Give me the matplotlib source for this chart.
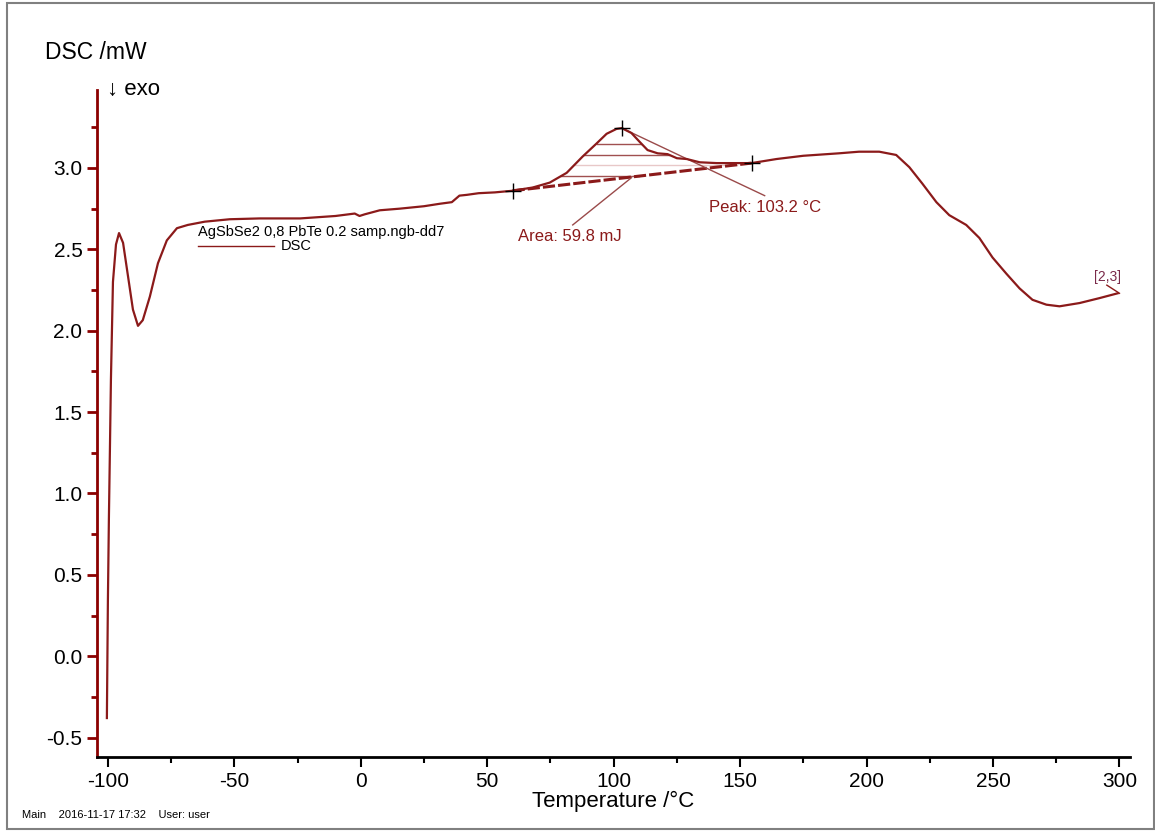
import numpy as np
import matplotlib
matplotlib.use('Agg')
import matplotlib.pyplot as plt
from matplotlib.patches import Rectangle
from matplotlib.ticker import MultipleLocator, FormatStrFormatter

plt.rcParams['font.family'] = ['Liberation Sans', 'DejaVu Sans']
plt.rcParams['axes.unicode_minus'] = False

# DSC curve
temp = [-100.4, -100.0, -99.6, -99.2, -98.8, -98.0, -96.8, -95.6, -94.0, -92.0,
        -90.1, -88.1, -86.2, -83.4, -80.2, -76.7, -72.7, -68.4, -61.7, -51.8,
        -40.0, -24.0, -10.0, -2.4, -0.5, 1.5, 7.5, 15.4, 25.0, 31.2,
        36.0, 39.0, 42.0, 46.6, 53.0, 60.0, 68.0, 74.7, 81.4, 87.7,
        93.2, 97.2, 101.1, 103.2, 107.0, 110.3, 113.4, 117.4, 121.3, 125.0,
        128.9, 134.0, 140.7, 147.0, 154.5, 164.4, 175.0, 189.0, 197.0, 205.0,
        211.7, 216.9, 222.0, 227.6, 232.7, 239.4, 244.6, 249.8, 255.3, 260.5,
        265.6, 271.1, 276.3, 284.2, 292.0, 299.3]
dsc = [-0.38, 0.34, 0.85, 1.27, 1.70, 2.30, 2.53, 2.60, 2.54, 2.33,
       2.13, 2.03, 2.065, 2.21, 2.415, 2.555, 2.63, 2.65, 2.67, 2.685,
       2.69, 2.69, 2.705, 2.72, 2.705, 2.715, 2.74, 2.75, 2.765, 2.78,
       2.79, 2.83, 2.835, 2.845, 2.85, 2.86, 2.88, 2.91, 2.97, 3.07,
       3.15, 3.21, 3.24, 3.245, 3.215, 3.16, 3.11, 3.09, 3.085, 3.06,
       3.055, 3.035, 3.03, 3.03, 3.03, 3.055, 3.075, 3.09, 3.10, 3.10,
       3.08, 3.005, 2.905, 2.79, 2.71, 2.65, 2.57, 2.45, 2.35, 2.26,
       2.19, 2.16, 2.15, 2.17, 2.20, 2.23]

peak_start = 60.0
peak_end = 154.5
peak_temp = 103.2
peak_label = 'Peak: 103.2 °C'
area_label = 'Area: 59.8 mJ'
hatch_levels = [3.15, 3.08, 3.02, 2.95]
sample_name = 'AgSbSe2 0,8 PbTe 0.2 samp.ngb-dd7'

red = '#8b1a1a'
spine_red = '#8b0000'

fig = plt.figure(figsize=(11.55, 8.32), dpi=100)
ax = fig.add_axes([0.084, 0.090, 0.894, 0.802])

t = np.array(temp)
d = np.array(dsc)
ax.plot(t, d, color=red, lw=1.6, zorder=3, solid_joinstyle='round')

# baseline of the peak evaluation
b0 = np.interp(peak_start, t, d)
b1 = np.interp(peak_end, t, d)
ax.plot([peak_start, peak_end], [b0, b1], color=red, lw=2.2, ls=(0, (4, 1)), zorder=2)

# hatch lines between curve and baseline
tt = np.linspace(peak_start, peak_end, 2000)
cc = np.interp(tt, t, d)
bb = b0 + (b1 - b0) * (tt - peak_start) / (peak_end - peak_start)
for i, lev in enumerate(hatch_levels):
    m = (cc >= lev) & (bb <= lev)
    if m.any():
        col = '#e8c8c8' if i == 2 else '#a05050'
        ax.plot([tt[m].min(), tt[m].max()], [lev, lev], color=col, lw=1.0, zorder=1)

pk = np.interp(peak_temp, t, d)
for x, y in [(peak_start, b0), (peak_end, b1), (peak_temp, pk)]:
    ax.plot(x, y, marker='+', color='black', ms=11, mew=1.0, zorder=4)

ax.plot([peak_temp, 159.7], [pk, 2.83], color='#9a4a4a', lw=1.0)
ax.text(137.5, 2.76, peak_label, color=red, fontsize=12, va='center')
ax.plot([83.8, 107.0], [2.65, 2.94], color='#9a4a4a', lw=1.0)
ax.text(62.0, 2.58, area_label, color=red, fontsize=12, va='center')

ax.plot([295.0, 300.0], [2.28, 2.23], color=red, lw=1.0)
ax.text(290.0, 2.33, '[2,3]', color='#7a2a4a', fontsize=10, va='center')

ax.text(-64.5, 2.608, sample_name, color='black', fontsize=10.5, va='center')
ax.plot([-64.4, -34.4], [2.52, 2.52], color=red, lw=1.0)
ax.text(-31.5, 2.52, 'DSC', color='black', fontsize=10.5, va='center')

ax.set_xlim(-104.3, 304.0)
ax.set_ylim(-0.62, 3.48)
ax.xaxis.set_major_locator(MultipleLocator(50))
ax.xaxis.set_minor_locator(MultipleLocator(25))
ax.yaxis.set_major_locator(MultipleLocator(0.5))
ax.yaxis.set_minor_locator(MultipleLocator(0.25))
ax.yaxis.set_major_formatter(FormatStrFormatter('%.1f'))

for s in ['top', 'right']:
    ax.spines[s].set_visible(False)
ax.spines['left'].set_color(spine_red)
ax.spines['left'].set_linewidth(2)
ax.spines['bottom'].set_linewidth(2)
ax.tick_params(axis='y', which='both', colors=spine_red, labelcolor='black', width=2)
ax.tick_params(axis='x', which='both', width=1.5)
ax.tick_params(which='major', length=7, labelsize=15)
ax.tick_params(which='minor', length=4)

ax.set_xlabel('Temperature /°C', fontsize=16, labelpad=0)

fig.text(0.039, 0.937, 'DSC /mW', fontsize=16.5, va='center')
fig.text(0.093, 0.893, '↓ exo', fontsize=16, va='center')
fig.text(0.019, 0.020, 'Main    2016-11-17 17:32    User: user', fontsize=8, va='center')

fig.patches.append(Rectangle((0.006, 0.004), 0.993, 0.992, transform=fig.transFigure,
                             fill=False, edgecolor='#808080', lw=1.5))

fig.savefig('out.png', dpi=100)
